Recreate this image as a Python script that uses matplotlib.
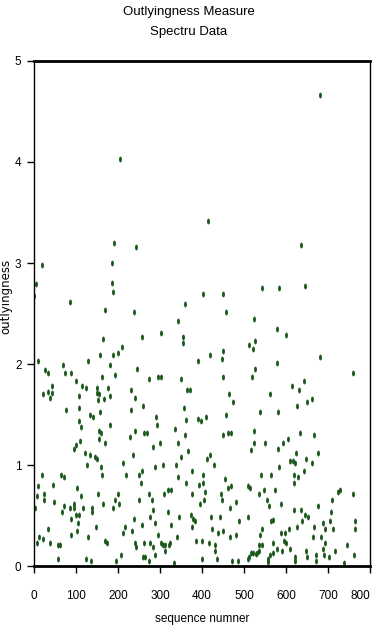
import numpy as np
import matplotlib
matplotlib.use("Agg")
import matplotlib.pyplot as plt

# outlyingness per observation (sequence number, value)
seq = [682, 204, 415,
       191, 242, 18, 186, 4, 185, 189, 1, 85, 169, 238, 164, 256, 210, 200, 189, 157,
       10, 128, 180, 69, 27, 33, 74, 88, 245, 194, 162, 99, 43, 114, 123, 150, 176,
       230, 33, 21, 42, 149, 154, 107, 180, 240, 39, 167,
       403, 450, 360, 456, 342, 524, 303, 355, 355, 527, 512, 522, 450, 419, 447, 390,
       527, 273, 295, 303, 349, 450, 518, 365, 372, 465,
       636, 543, 584, 646, 579, 601, 682, 578, 760, 643, 615, 632, 563, 661,
       153, 260, 76, 107, 157, 133, 141, 232, 107, 111, 182, 155, 159, 240, 261, 229,
       155, 110, 169, 99, 96, 121, 133, 145, 151, 236, 212, 126, 159, 257, 18, 65,
       72, 161, 218, 251, 255, 45, 10, 102, 25, 7, 112, 153, 199, 25, 249, 48, 192,
       71, 95, 164, 203, 2, 85, 95, 117, 139, 187, 67, 137, 99, 106, 89, 237, 105,
       257, 33, 148, 217, 102, 234, 212, 87, 128, 12, 21, 7, 37, 58, 63, 168, 175,
       241, 244, 261, 206, 57, 123, 136, 196, 260,
       358, 474, 290, 362, 390, 398, 410, 458, 294, 269, 336, 360, 451, 463, 469, 523,
       299, 343, 523, 283, 366, 517, 418, 349, 413, 289, 308, 338, 428, 375, 402, 344,
       454, 362, 403, 393, 462, 469, 509, 514, 318, 326, 407, 273, 310, 377, 445, 280,
       405, 447, 481, 396, 466, 283, 319, 276, 346, 373, 379, 422, 443, 509, 384, 489,
       288, 327, 377, 423, 450, 438, 295, 341, 481, 466, 276, 283, 302, 307, 311, 321,
       324, 312, 386, 400, 417, 431, 432, 265, 288, 400, 435, 517, 521, 513, 510, 529,
       275, 333, 472, 486,
       627, 650, 539, 581, 634, 666, 550, 592, 605, 581, 624, 677, 610, 616, 621, 648,
       661, 584, 643, 541, 565, 618, 628, 618, 536, 547, 574, 723, 729, 760, 555, 559,
       589, 676, 710, 618, 636, 646, 652, 708, 565, 570, 637, 704, 764, 625, 667, 689,
       544, 606, 693, 712, 764, 539, 587, 598, 664, 684, 595, 535, 543, 568, 600, 693,
       744, 579, 590, 609, 687, 716, 531, 536, 568, 562, 648, 649, 671, 622, 690, 763,
       557, 558, 703, 622, 671, 738]

outly = [4.66, 4.03, 3.42,
         3.20, 3.16, 2.98, 3.00, 2.79, 2.80, 2.71, 2.67, 2.61, 2.53, 2.51, 2.25, 2.27, 2.17, 2.11, 2.09, 2.09,
         2.03, 2.03, 1.99, 1.99, 1.94, 1.91, 1.91, 1.91, 1.95, 1.89, 1.87, 1.83, 1.78, 1.78, 1.76, 1.76, 1.76,
         1.74, 1.72, 1.70, 1.71, 1.71, 1.70, 1.68, 1.68, 1.66, 1.66, 1.65,
         2.69, 2.69, 2.59, 2.51, 2.43, 2.45, 2.31, 2.27, 2.21, 2.23, 2.19, 2.15, 2.13, 2.09, 2.05, 2.03,
         1.95, 1.85, 1.87, 1.87, 1.85, 1.87, 1.87, 1.74, 1.74, 1.70,
         3.18, 2.75, 2.75, 2.77, 2.35, 2.29, 2.07, 2.01, 1.91, 1.83, 1.78, 1.74, 1.70, 1.65,
         1.64, 1.58, 1.54, 1.56, 1.52, 1.50, 1.48, 1.54, 1.44, 1.38, 1.40, 1.34, 1.32, 1.34, 1.32, 1.28,
         1.26, 1.24, 1.22, 1.20, 1.16, 1.12, 1.10, 1.08, 1.06, 1.10, 1.02, 1.00, 0.98, 0.94, 0.90, 0.90,
         0.88, 0.90, 0.90, 0.90, 0.82, 0.80, 0.79, 0.77, 0.71, 0.69, 0.69, 0.71, 0.71, 0.65, 0.65, 0.63, 0.65,
         0.59, 0.61, 0.61, 0.61, 0.57, 0.57, 0.57, 0.57, 0.57, 0.57, 0.53, 0.53, 0.51, 0.51, 0.47, 0.47, 0.43,
         0.41, 0.37, 0.39, 0.39, 0.35, 0.35, 0.33, 0.31, 0.29, 0.29, 0.27, 0.23, 0.23, 0.21, 0.21, 0.25, 0.23,
         0.23, 0.19, 0.23, 0.11, 0.07, 0.07, 0.05, 0.05, 0.09,
         1.56, 1.62, 1.48, 1.45, 1.46, 1.44, 1.48, 1.50, 1.40, 1.32, 1.36, 1.30, 1.30, 1.32, 1.32, 1.34,
         1.22, 1.22, 1.22, 1.18, 1.14, 1.15, 1.10, 1.08, 1.06, 0.98, 1.00, 1.00, 1.00, 0.94, 0.90, 0.88,
         0.86, 0.82, 0.82, 0.80, 0.77, 0.79, 0.79, 0.77, 0.75, 0.75, 0.73, 0.71, 0.71, 0.71, 0.71, 0.65,
         0.65, 0.65, 0.63, 0.61, 0.57, 0.55, 0.53, 0.49, 0.49, 0.51, 0.47, 0.49, 0.49, 0.49, 0.45, 0.45,
         0.43, 0.41, 0.39, 0.37, 0.35, 0.33, 0.31, 0.29, 0.31, 0.29, 0.23, 0.19, 0.23, 0.21, 0.21, 0.21,
         0.23, 0.15, 0.25, 0.25, 0.23, 0.21, 0.15, 0.09, 0.11, 0.07, 0.07, 0.13, 0.13, 0.09, 0.07, 0.12,
         0.05, 0.03, 0.05, 0.05,
         1.58, 1.62, 1.52, 1.52, 1.32, 1.30, 1.22, 1.22, 1.26, 1.16, 1.12, 1.12, 1.04, 1.04, 1.02, 1.06,
         1.02, 0.98, 0.94, 0.90, 0.90, 0.90, 0.88, 0.82, 0.71, 0.75, 0.75, 0.73, 0.75, 0.71, 0.65, 0.59,
         0.61, 0.59, 0.65, 0.55, 0.55, 0.51, 0.49, 0.53, 0.45, 0.46, 0.45, 0.45, 0.45, 0.39, 0.39, 0.43,
         0.37, 0.37, 0.37, 0.37, 0.37, 0.31, 0.33, 0.33, 0.29, 0.29, 0.25, 0.21, 0.21, 0.23, 0.23, 0.23,
         0.21, 0.17, 0.15, 0.17, 0.17, 0.15, 0.13, 0.15, 0.13, 0.11, 0.15, 0.09, 0.11, 0.09, 0.11, 0.11,
         0.07, 0.04, 0.09, 0.05, 0.05, 0.03]

x_ticks = [0, 100, 200, 300, 400, 500, 600, 700, 800]
y_ticks = [0, 1, 2, 3, 4, 5]

font = ['Liberation Sans', 'DejaVu Sans']

# small upright oval marker
t = np.linspace(0, 2 * np.pi, 24)
oval = list(zip(0.5 * np.cos(t), np.sin(t)))

fig = plt.figure(figsize=(3.78, 6.32), dpi=100)
ax = fig.add_axes([0.0899, 0.1044, 0.889, 0.7991])

ax.scatter(seq, outly, marker=oval, s=18, color='#1b581b', linewidths=0)

ax.set_xlim(0, 800)
ax.set_ylim(0, 5)
ax.set_xticks(x_ticks)
ax.set_yticks(y_ticks)
ax.tick_params(direction='out', length=5, width=1, labelsize=8.5)
ax.tick_params(axis='x', pad=12)
ax.tick_params(axis='y', pad=4)
for lab in ax.get_xticklabels() + ax.get_yticklabels():
    lab.set_family(font)
ax.get_xticklabels()[-1].set_ha('right')

ax.spines['top'].set_linewidth(2)
ax.spines['bottom'].set_linewidth(2)
ax.spines['left'].set_linewidth(1)
ax.spines['right'].set_linewidth(1)

ax.set_xlabel('sequence numner', family=font, fontsize=8.5, labelpad=8)
ax.set_ylabel('outlyingness', family='DejaVu Sans', fontsize=8.5, va='center')
ax.yaxis.set_label_coords(-0.084, 0.533)

fig.text(0.5, 0.981, 'Outlyingness Measure', ha='center', va='center', family=font, fontsize=9.5)
fig.text(0.5, 0.949, 'Spectru Data', ha='center', va='center', family=font, fontsize=9.5)

fig.savefig('out.png', dpi=100)
